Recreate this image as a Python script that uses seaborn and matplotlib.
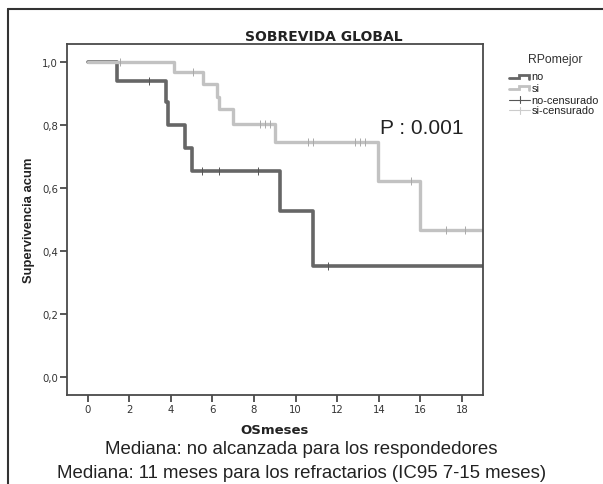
import numpy as np
import pandas as pd
import matplotlib
matplotlib.use("Agg")
import matplotlib.pyplot as plt
import seaborn as sns
from matplotlib.lines import Line2D

# ---------------- data ----------------
no_times = [0.0, 1.42, 3.78, 3.86, 4.68, 5.03, 9.25, 10.82, 19.0]
no_surv = [1.0, 0.938, 0.871, 0.800, 0.726, 0.654, 0.527, 0.350, 0.350]
no_cens_t = [2.96, 5.48, 6.33, 8.20, 11.54]
no_cens_s = [0.938, 0.654, 0.654, 0.654, 0.350]

si_times = [0.0, 4.16, 5.54, 6.22, 6.33, 7.00, 9.03, 13.95, 16.0, 19.0]
si_surv = [1.0, 0.966, 0.928, 0.889, 0.850, 0.801, 0.746, 0.622, 0.467, 0.467]
si_cens_t = [1.53, 5.08, 8.28, 8.53, 8.76, 10.60, 10.85, 12.85, 13.10, 13.33, 15.53, 17.23, 18.14]
si_cens_s = [1.0, 0.966, 0.801, 0.801, 0.801, 0.746, 0.746, 0.746, 0.746, 0.746, 0.622, 0.467, 0.467]

x_ticks = [0, 2, 4, 6, 8, 10, 12, 14, 16, 18]
y_ticks = [0.0, 0.2, 0.4, 0.6, 0.8, 1.0]
y_tick_labels = ["0,0", "0,2", "0,4", "0,6", "0,8", "1,0"]

title = "SOBREVIDA GLOBAL"
x_label = "OSmeses"
y_label = "Supervivencia acum"
legend_title = "RPomejor"
legend_labels = ["no", "si", "no-censurado", "si-censurado"]
p_text = "P : 0.001"
note_lines = ["Mediana: no alcanzada para los respondedores",
              "Mediana: 11 meses para los refractarios (IC95 7-15 meses)"]

# ---------------- style ----------------
sns.set_style("white")
plt.rcParams["font.family"] = ["Liberation Sans", "DejaVu Sans"]

DARK = "#666666"
LIGHT = "#c2c2c2"
SPINE = "#4a4a4a"
TXT = "#222222"

W, H = 603.0, 485.0


def fx(px):
    return px / W


def fy(py):
    return 1 - py / H


fig = plt.figure(figsize=(6.03, 4.85), dpi=100)
ax = fig.add_axes([0.1111, 0.1841, 0.6894, 0.7231])

no_df = pd.DataFrame({"t": no_times, "s": no_surv})
si_df = pd.DataFrame({"t": si_times, "s": si_surv})

sns.lineplot(data=no_df, x="t", y="s", ax=ax, drawstyle="steps-post",
             estimator=None, sort=False, color=DARK, linewidth=2.6)
sns.lineplot(data=si_df, x="t", y="s", ax=ax, drawstyle="steps-post",
             estimator=None, sort=False, color=LIGHT, linewidth=2.4)

sns.scatterplot(x=no_cens_t, y=no_cens_s, ax=ax, marker="|", s=30,
                color="#555555", linewidth=0.7, zorder=5)
sns.scatterplot(x=si_cens_t, y=si_cens_s, ax=ax, marker="|", s=30,
                color="#aaaaaa", linewidth=0.7, zorder=5)

ax.set_xlim(-1, 19)
ax.set_ylim(-0.057, 1.056)
ax.set_xticks(x_ticks)
ax.set_xticklabels([str(v) for v in x_ticks], family="DejaVu Sans")
ax.set_yticks(y_ticks)
ax.set_yticklabels(y_tick_labels, family="DejaVu Sans")
ax.tick_params(axis="both", direction="out", length=5, width=1.3,
               color=SPINE, labelsize=7.3, labelcolor="#333333", pad=1.5,
               left=True, bottom=True)
for sp in ax.spines.values():
    sp.set_visible(True)
    sp.set_color(SPINE)
    sp.set_linewidth(1.3)

ax.set_xlabel(x_label, fontsize=9.5, fontweight="bold", labelpad=7,
              color=TXT, family="DejaVu Sans")
ax.set_ylabel(y_label, fontsize=9.4, fontweight="bold", labelpad=5,
              color=TXT)

fig.text(fx(421.5), fy(129), p_text, ha="center", va="center",
         fontsize=15, color=TXT)

fig.text(fx(323.5), fy(37), title, ha="center", va="center",
         fontsize=10, fontweight="bold", color=TXT, family="DejaVu Sans")

fig.text(0.5, fy(450), note_lines[0], ha="center", va="center",
         fontsize=13.4, color=TXT)
fig.text(0.5, fy(474), note_lines[1], ha="center", va="center",
         fontsize=13.4, color=TXT)

# outer frame
fig.add_artist(Line2D([fx(8.3), fx(8.3)], [0, fy(10)],
                      transform=fig.transFigure, color="#333333", lw=1.5))
fig.add_artist(Line2D([fx(8.3), 1.0], [fy(10), fy(10)],
                      transform=fig.transFigure, color="#333333", lw=1.5))

# legend (drawn by hand to match the SPSS-style key)
fig.text(fx(555.5), fy(60), legend_title, ha="center", va="center",
         fontsize=8.8, color="#333333")
rows = [77.5, 88.5, 100.5, 111]
step_cols = [DARK, LIGHT]
for i, col in enumerate(step_cols):
    y = rows[i]
    xs = [fx(509), fx(519), fx(519), fx(529), fx(529)]
    ys = [fy(y + 1.8), fy(y + 1.8), fy(y - 1.5), fy(y - 1.5), fy(y + 2)]
    fig.add_artist(Line2D(xs, ys, transform=fig.transFigure, color=col,
                          lw=2.0, solid_joinstyle="miter"))
cens_cols = ["#555555", "#cccccc"]
for i, col in enumerate(cens_cols):
    y = rows[i + 2]
    fig.add_artist(Line2D([fx(509), fx(530)], [fy(y), fy(y)],
                          transform=fig.transFigure, color=col, lw=0.8))
    fig.add_artist(Line2D([fx(519.5), fx(519.5)], [fy(y - 3.5), fy(y + 3.5)],
                          transform=fig.transFigure, color=col, lw=0.8))
for i, lab in enumerate(legend_labels):
    fig.text(fx(531.5), fy(rows[i]), lab, ha="left", va="center",
             fontsize=7.9, color=TXT)

fig.savefig("out.png", dpi=100)
